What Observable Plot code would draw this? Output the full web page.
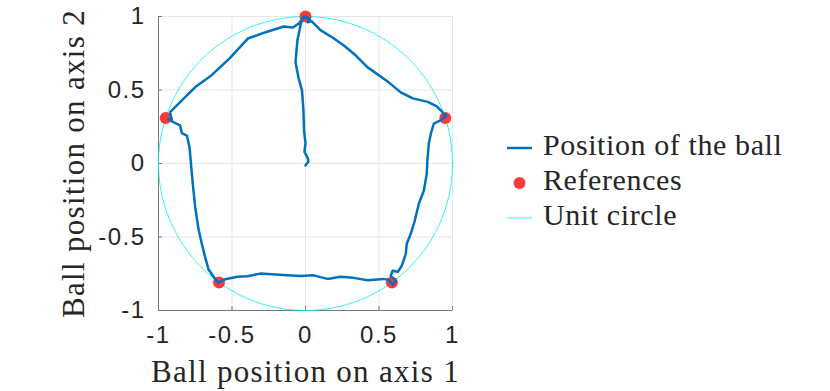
<!DOCTYPE html>
<html><head><meta charset="utf-8">
<script src="https://cdn.jsdelivr.net/npm/d3@7"></script>
<script src="https://cdn.jsdelivr.net/npm/@observablehq/plot@0.6"></script>
<style>
body{margin:0;background:#fff;}
#wrap{position:relative;width:830px;height:391px;overflow:hidden;}
#wrap svg{position:absolute;left:0;top:0;}
#wrap g[aria-label="x-axis label"] text, #wrap g[aria-label="y-axis label"] text{font-family:"Liberation Serif","Times New Roman",Times,"DejaVu Serif",serif !important;font-size:31px !important;letter-spacing:1.3px;fill:#262626;}
#wrap g[aria-label="x-axis tick label"] text, #wrap g[aria-label="y-axis tick label"] text{font-family:"Liberation Sans",Arial,Helvetica,sans-serif !important;font-size:24px !important;letter-spacing:1.5px;fill:#262626;}
#legend text{font-family:"Liberation Serif","Times New Roman",Times,"DejaVu Serif",serif !important;font-size:30px;letter-spacing:0.6px;fill:#262626;}
</style>
</head><body>
<div id="wrap"></div>
<script>
// ---- data ----
const ticks = [-1, -0.5, 0, 0.5, 1];
const tickLabels = ["-1", "-0.5", "0", "0.5", "1"];
const refX = [0, 0.951, 0.588, -0.588, -0.951];
const refY = [1, 0.309, -0.809, -0.809, 0.309];
const ballX = [0.000,0.020,0.014,-0.007,0.000,-0.010,-0.014,-0.024,-0.048,-0.068,-0.061,-0.055,-0.034,-0.020,0.000,0.027,0.014,0.041,
  0.102,0.191,0.259,0.341,0.423,0.566,0.648,0.730,0.832,0.893,0.934,0.948,0.955,0.928,
  0.873,0.853,0.839,0.829,0.825,0.805,0.771,0.743,0.716,0.689,0.682,0.655,0.628,0.593,0.580,0.614,0.593,0.566,
  0.532,0.423,0.327,0.239,0.150,0.055,-0.034,-0.123,-0.307,-0.396,-0.464,-0.546,-0.593,
  -0.614,-0.660,-0.682,-0.705,-0.728,-0.750,-0.762,-0.773,-0.781,-0.789,-0.807,-0.841,-0.853,-0.875,-0.898,-0.932,-0.907,
  -0.921,-0.841,-0.750,-0.648,-0.518,-0.392,-0.266,-0.148,-0.085,-0.046,-0.012,0.007];
const ballY = [-0.014,0.013,0.040,0.081,0.136,0.224,0.361,0.497,0.586,0.689,0.770,0.838,0.941,0.989,0.999,0.982,0.961,0.968,
  0.907,0.852,0.804,0.736,0.654,0.552,0.484,0.443,0.419,0.388,0.347,0.313,0.334,0.299,
  0.272,0.204,0.136,0.020,-0.069,-0.185,-0.274,-0.390,-0.478,-0.546,-0.615,-0.696,-0.737,-0.730,-0.764,-0.798,-0.825,-0.792,
  -0.785,-0.794,-0.778,-0.771,-0.785,-0.761,-0.765,-0.760,-0.749,-0.767,-0.771,-0.787,-0.810,
  -0.787,-0.719,-0.640,-0.548,-0.446,-0.299,-0.185,-0.071,0.020,0.111,0.190,0.206,0.259,0.270,0.281,0.304,0.286,
  0.349,0.429,0.520,0.593,0.714,0.850,0.895,0.932,0.925,0.952,0.997,0.988];
const legendLabels = ["Position of the ball", "References", "Unit circle"];
const colBall = "#0072BD", colRef = "#fa3a3a", colCircle = "#00f0f0";

// ---- derived tables ----
const ball = ballX.map((x, i) => ({x, y: ballY[i]}));
const refs = refX.map((x, i) => ({x, y: refY[i]}));
const circle = d3.range(0, 361, 2).map(a => ({x: Math.cos(a * Math.PI / 180), y: Math.sin(a * Math.PI / 180)}));
const fmt = d => tickLabels[ticks.indexOf(d)];
const axisCol = "#7a7a7a";

const chart = Plot.plot({
  width: 830, height: 391,
  marginLeft: 158, marginRight: 378, marginTop: 16, marginBottom: 81,
  x: {domain: [-1, 1]},
  y: {domain: [-1, 1]},
  style: {background: "transparent", overflow: "visible"},
  marks: [
    Plot.gridX(ticks, {stroke: "#e6e6e6", strokeOpacity: 1}),
    Plot.gridY(ticks, {stroke: "#e6e6e6", strokeOpacity: 1}),
    Plot.ruleX([-1], {stroke: axisCol}),
    Plot.ruleY([-1], {stroke: axisCol}),
    Plot.axisX(ticks, {tickSize: 4, dy: -4, fill: null, label: null, stroke: axisCol}),
    Plot.axisY(ticks, {tickSize: 4, dx: 4, fill: null, label: null, stroke: axisCol}),
    Plot.axisX(ticks, {tickSize: 0, tickPadding: 15, tickFormat: fmt, label: "Ball position on axis 1", labelAnchor: "center", labelArrow: false, labelOffset: 71}),
    Plot.axisY(ticks, {tickSize: 0, tickPadding: 13, tickFormat: fmt, label: "Ball position on axis 2", labelAnchor: "center", labelArrow: false, labelOffset: 97}),
    Plot.line(circle, {x: "x", y: "y", stroke: colCircle, strokeWidth: 0.8}),
    Plot.dot(refs, {x: "x", y: "y", r: 6, fill: colRef}),
    Plot.line(ball, {x: "x", y: "y", stroke: colBall, strokeWidth: 2.5, strokeLinejoin: "round", strokeLinecap: "round"})
  ]
});
document.getElementById("wrap").appendChild(chart);

// ---- legend (right of the axes) ----
const leg = d3.select("#wrap").append("svg").attr("id", "legend").attr("width", 830).attr("height", 391);
const rows = [148, 183, 218];
leg.append("line").attr("x1", 507).attr("x2", 532).attr("y1", rows[0]).attr("y2", rows[0]).attr("stroke", colBall).attr("stroke-width", 2.5);
leg.append("circle").attr("cx", 519.5).attr("cy", rows[1]).attr("r", 6).attr("fill", colRef);
leg.append("line").attr("x1", 507).attr("x2", 532).attr("y1", rows[2]).attr("y2", rows[2]).attr("stroke", colCircle).attr("stroke-width", 0.8);
legendLabels.forEach((t, i) => {
  leg.append("text").attr("x", 543).attr("y", rows[i] + 7).text(t);
});
</script>
</body></html>
